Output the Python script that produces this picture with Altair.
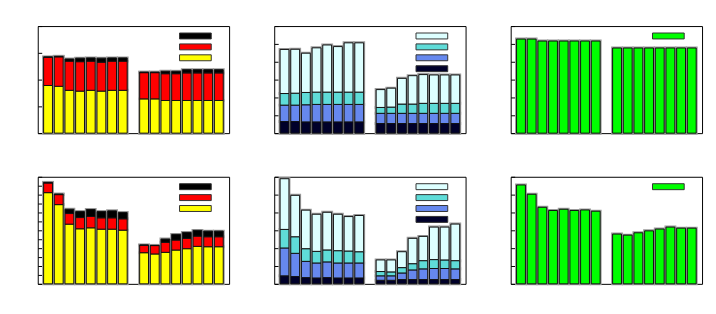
import altair as alt
import pandas as pd

# ---- categories (17 slots: 8 bars, an empty slot, 8 bars) ----
slots = [f"a{i}" for i in range(1, 9)] + ["gap"] + [f"b{i}" for i in range(1, 9)]
bar_slots = slots[:8] + slots[9:]

# ---- panel 1 (top-left): yellow / red / black segments ----
p1_yellow = [1.78, 1.75, 1.60, 1.57, 1.60, 1.57, 1.60, 1.60, 1.28, 1.28, 1.22, 1.22, 1.22, 1.22, 1.22, 1.22]
p1_red = [1.05, 1.10, 1.09, 1.10, 1.09, 1.08, 1.09, 1.09, 0.98, 0.98, 1.00, 1.00, 1.03, 1.03, 1.03, 1.03]
p1_black = [0.02, 0.02, 0.08, 0.13, 0.12, 0.15, 0.12, 0.12, 0.02, 0.02, 0.09, 0.09, 0.12, 0.12, 0.12, 0.12]

# ---- panel 2 (top-middle): navy / blue / turquoise / light cyan ----
p2_navy = [0.65, 0.65, 0.63, 0.63, 0.63, 0.63, 0.63, 0.63, 0.54, 0.54, 0.54, 0.54, 0.54, 0.54, 0.54, 0.54]
p2_blue = [0.92, 0.92, 0.96, 0.98, 0.98, 0.98, 0.98, 0.98, 0.57, 0.57, 0.57, 0.57, 0.57, 0.57, 0.57, 0.57]
p2_turq = [0.65, 0.67, 0.69, 0.69, 0.69, 0.69, 0.69, 0.69, 0.33, 0.35, 0.52, 0.52, 0.56, 0.56, 0.56, 0.56]
p2_light = [2.47, 2.46, 2.20, 2.48, 2.64, 2.55, 2.76, 2.76, 1.00, 1.06, 1.44, 1.59, 1.61, 1.59, 1.59, 1.59]

# ---- panel 3 (top-right): green ----
p3_green = [5.27, 5.27, 5.16, 5.16, 5.16, 5.16, 5.16, 5.16, 4.77, 4.77, 4.77, 4.77, 4.77, 4.77, 4.77, 4.77]

# ---- panel 4 (bottom-left) ----
p4_yellow = [10.22, 8.88, 6.69, 6.17, 6.28, 6.13, 6.13, 6.02, 3.49, 3.35, 3.53, 3.79, 3.94, 4.20, 4.16, 4.16]
p4_red = [1.08, 1.12, 1.19, 1.26, 1.27, 1.27, 1.27, 1.27, 0.84, 0.94, 1.12, 1.12, 1.15, 1.15, 1.12, 1.12]
p4_black = [0.07, 0.07, 0.48, 0.67, 0.78, 0.70, 0.78, 0.70, 0.02, 0.02, 0.37, 0.63, 0.67, 0.64, 0.63, 0.63]

# ---- panel 5 (bottom-middle) ----
p5_navy = [0.45, 0.41, 0.35, 0.33, 0.35, 0.33, 0.33, 0.33, 0.20, 0.20, 0.24, 0.24, 0.24, 0.24, 0.24, 0.24]
p5_blue = [1.56, 1.30, 0.91, 0.84, 0.88, 0.84, 0.84, 0.84, 0.25, 0.25, 0.37, 0.54, 0.60, 0.62, 0.62, 0.60]
p5_turq = [1.04, 0.93, 0.71, 0.65, 0.67, 0.69, 0.67, 0.63, 0.24, 0.22, 0.30, 0.35, 0.46, 0.50, 0.48, 0.46]
p5_light = [2.84, 2.32, 2.16, 2.08, 2.11, 2.04, 1.93, 2.03, 0.65, 0.67, 0.89, 1.42, 1.36, 1.82, 1.84, 2.05]

# ---- panel 6 (bottom-right) ----
p6_green = [5.54, 5.02, 4.29, 4.11, 4.18, 4.11, 4.14, 4.07, 2.79, 2.73, 2.86, 2.97, 3.07, 3.18, 3.12, 3.12]

# ---- colours (bottom of stack first) ----
warm_colors = ["#ffff00", "#ff0000", "#000000"]
cool_colors = ["#00002a", "#6688ee", "#5fdcd8", "#ddffff"]
green_colors = ["#00ff00"]

PANEL_W = 193
PANEL_H = 108
SWATCH = "M-5.33,-1H5.33V1H-5.33Z"


def panel(series_values, colors, ymax, legend_x, legend_y):
    names = [f"s{k}" for k in range(len(series_values))]
    rows = []
    for k, (name, vals) in enumerate(zip(names, series_values)):
        for s, v in zip(bar_slots, vals):
            rows.append({"slot": s, "series": name, "value": v, "order": k})
    df = pd.DataFrame(rows)
    dom = list(reversed(names))
    rng = list(reversed(colors))
    x = alt.X("slot:N", scale=alt.Scale(domain=slots, paddingInner=0.17, paddingOuter=0.55), axis=None)
    y = alt.Y("value:Q", stack="zero",
              scale=alt.Scale(domain=[0, ymax], nice=False, zero=True),
              axis=alt.Axis(values=list(range(0, ymax + 1)), labels=False, domain=False, grid=False,
                            ticks=True, tickSize=4, offset=-4, tickColor="#000", title=None))
    color = alt.Color("series:N", scale=alt.Scale(domain=dom, range=rng),
                      legend=alt.Legend(orient="none", legendX=legend_x, legendY=legend_y, title=None,
                                        labelExpr="''", labelFontSize=10, symbolType=SWATCH, symbolSize=36,
                                        symbolStrokeColor="#333", symbolStrokeWidth=1,
                                        symbolOpacity=1, rowPadding=1, padding=0))
    order = alt.Order("order:Q", sort="ascending")
    base = alt.Chart(df).encode(x=x, y=y, color=color, order=order)
    halo = base.mark_bar(stroke="#9a9a9a", strokeWidth=3, opacity=1)
    top = base.mark_bar(stroke="#111111", strokeWidth=1, opacity=1)
    return alt.layer(halo, top).properties(width=PANEL_W, height=PANEL_H)


LX, LY = 154, 5
p1 = panel([p1_yellow, p1_red, p1_black], warm_colors, 4, LX, LY)
p2 = panel([p2_navy, p2_blue, p2_turq, p2_light], cool_colors, 6, LX, LY)
p3 = panel([p3_green], green_colors, 6, LX, LY)
p4 = panel([p4_yellow, p4_red, p4_black], warm_colors, 12, LX, LY)
p5 = panel([p5_navy, p5_blue, p5_turq, p5_light], cool_colors, 6, LX, LY)
p6 = panel([p6_green], green_colors, 6, LX, LY)

row1 = alt.hconcat(p1, p2, p3, spacing=43.5).resolve_scale(color="independent", y="independent", x="independent")
row2 = alt.hconcat(p4, p5, p6, spacing=43.5).resolve_scale(color="independent", y="independent", x="independent")

chart = alt.vconcat(row1, row2, spacing=41).resolve_scale(
    color="independent", y="independent", x="independent"
).properties(
    padding={"left": 29, "top": 16, "right": 5, "bottom": 5},
    background="white",
).configure_view(
    stroke="#000000", strokeWidth=1
)

chart.save("out.html", embed_options={"renderer": "svg", "actions": False})
